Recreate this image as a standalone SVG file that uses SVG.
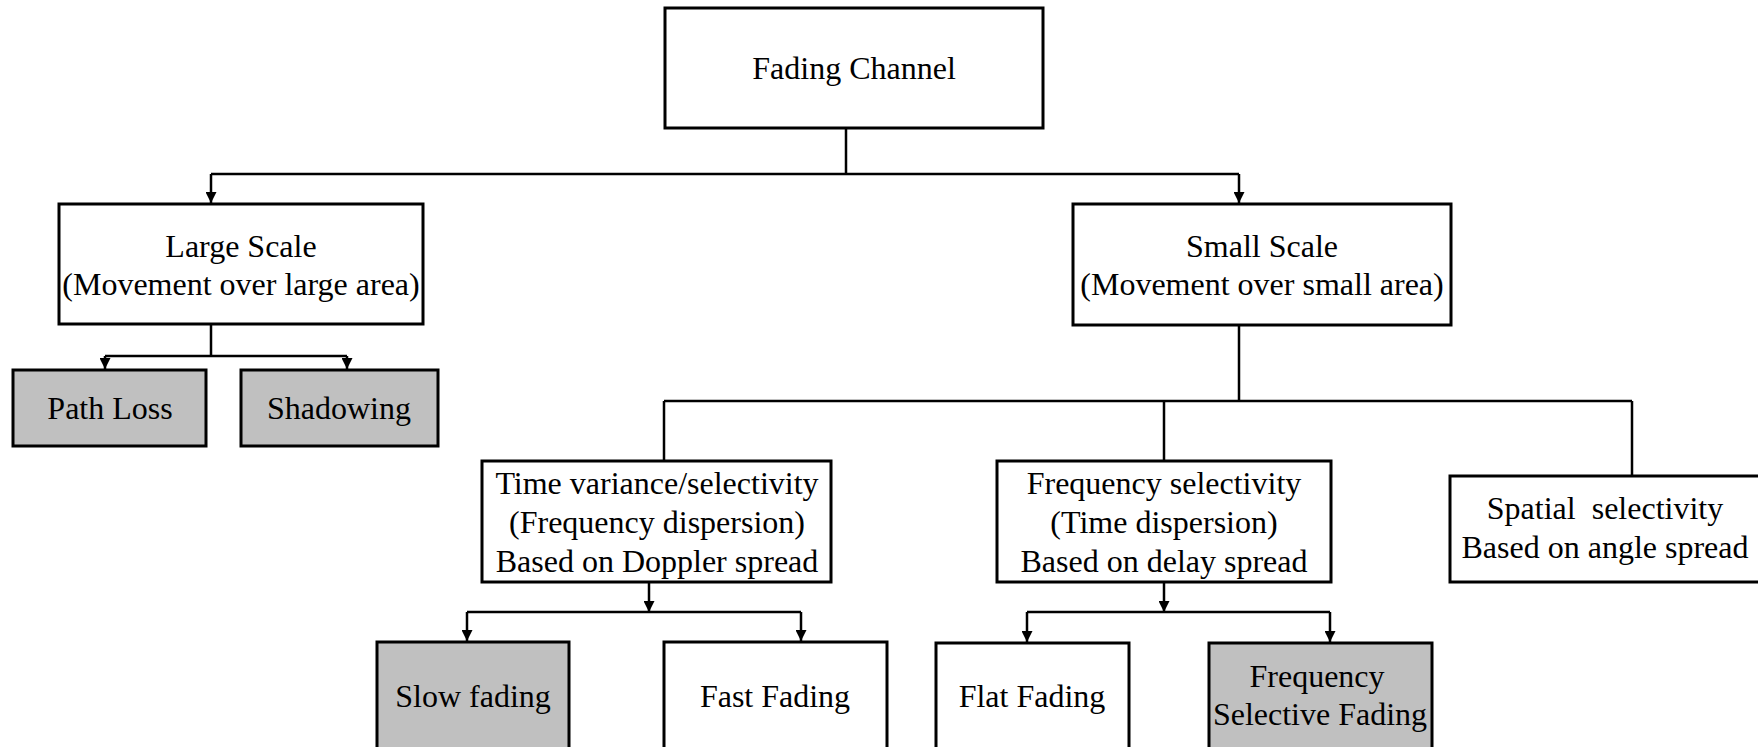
<svg xmlns="http://www.w3.org/2000/svg" width="1758" height="747" viewBox="0 0 1758 747">
<style>
.box{fill:#ffffff;stroke:#000000;stroke-width:3}
.gray{fill:#c0c0c0;stroke:#000000;stroke-width:3}
.t{font-family:"Liberation Serif","Times New Roman",serif;font-size:32px;fill:#000000;text-anchor:middle}
.c{fill:none;stroke:#000000;stroke-width:2.5}
</style>
<defs>
<marker id="arr" markerWidth="11" markerHeight="11" refX="11" refY="5.5" orient="auto" markerUnits="userSpaceOnUse">
<path d="M0,0 L11,5.5 L0,11 z" fill="#000000"/>
</marker>
</defs>
<rect x="0" y="0" width="1758" height="747" fill="#ffffff"/>
<g id="connectors">
<path class="c" d="M846,128 V174 M211,174 H1239"/>
<path class="c" d="M211,174 V203" marker-end="url(#arr)"/>
<path class="c" d="M1239,174 V203" marker-end="url(#arr)"/>
<path class="c" d="M211,324 V356 M105,356 H347"/>
<path class="c" d="M105,356 V369" marker-end="url(#arr)"/>
<path class="c" d="M347,356 V369" marker-end="url(#arr)"/>
<path class="c" d="M1239,325 V401 M664,401 H1632 M664,401 V461 M1164,401 V461 M1632,401 V476"/>
<path class="c" d="M649,582 V612" marker-end="url(#arr)"/>
<path class="c" d="M467,612 H801"/>
<path class="c" d="M467,612 V641" marker-end="url(#arr)"/>
<path class="c" d="M801,612 V641" marker-end="url(#arr)"/>
<path class="c" d="M1164,582 V612" marker-end="url(#arr)"/>
<path class="c" d="M1027,612 H1330"/>
<path class="c" d="M1027,612 V642" marker-end="url(#arr)"/>
<path class="c" d="M1330,612 V642" marker-end="url(#arr)"/>
</g>
<g id="fading-channel">
<rect class="box" x="665" y="8" width="378" height="120"/>
<text class="t" x="854" y="79">Fading Channel</text>
</g>
<g id="large-scale">
<rect class="box" x="59" y="204" width="364" height="120"/>
<text class="t" x="241" y="257">Large Scale</text>
<text class="t" x="241" y="295">(Movement over large area)</text>
</g>
<g id="small-scale">
<rect class="box" x="1073" y="204" width="378" height="121"/>
<text class="t" x="1262" y="257">Small Scale</text>
<text class="t" x="1262" y="295">(Movement over small area)</text>
</g>
<g id="path-loss">
<rect class="gray" x="13" y="370" width="193" height="76"/>
<text class="t" x="110" y="419">Path Loss</text>
</g>
<g id="shadowing">
<rect class="gray" x="241" y="370" width="197" height="76"/>
<text class="t" x="339" y="419">Shadowing</text>
</g>
<g id="time-variance">
<rect class="box" x="482" y="461" width="349" height="121"/>
<text class="t" x="657" y="494">Time variance/selectivity</text>
<text class="t" x="657" y="533">(Frequency dispersion)</text>
<text class="t" x="657" y="572">Based on Doppler spread</text>
</g>
<g id="frequency-selectivity">
<rect class="box" x="997" y="461" width="334" height="121"/>
<text class="t" x="1164" y="494">Frequency selectivity</text>
<text class="t" x="1164" y="533">(Time dispersion)</text>
<text class="t" x="1164" y="572">Based on delay spread</text>
</g>
<g id="spatial-selectivity">
<rect class="box" x="1450" y="476" width="330" height="106"/>
<text class="t" x="1605" y="519" xml:space="preserve">Spatial  selectivity</text>
<text class="t" x="1605" y="558">Based on angle spread</text>
</g>
<g id="slow-fading">
<rect class="gray" x="377" y="642" width="192" height="130"/>
<text class="t" x="473" y="707">Slow fading</text>
</g>
<g id="fast-fading">
<rect class="box" x="664" y="642" width="223" height="130"/>
<text class="t" x="775" y="707">Fast Fading</text>
</g>
<g id="flat-fading">
<rect class="box" x="936" y="643" width="193" height="130"/>
<text class="t" x="1032" y="707">Flat Fading</text>
</g>
<g id="frequency-selective-fading">
<rect class="gray" x="1209" y="643" width="223" height="130"/>
<text class="t" x="1317" y="687">Frequency</text>
<text class="t" x="1320" y="725">Selective Fading</text>
</g>
</svg>
